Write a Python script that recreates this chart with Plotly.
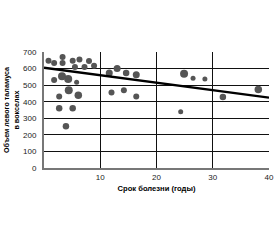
import plotly.graph_objects as go

# Data
duration_years = [0.8, 1.8, 3.3, 3.3, 5.1, 6.3, 5.5, 7.2, 8.0, 8.9,
                  1.8, 3.2, 4.3, 5.8, 2.7, 4.4, 6.1, 2.7, 5.1, 3.9,
                  11.6, 13.0, 14.6, 16.4, 12.0, 14.2, 16.4,
                  24.9, 26.5, 28.6, 24.3, 31.8, 38.1]
thalamus_voxels = [647, 633, 670, 633, 647, 655, 610, 610, 645, 617,
                   531, 553, 537, 517, 432, 469, 439, 360, 360, 252,
                   573, 601, 573, 563, 455, 469, 431,
                   569, 541, 537, 340, 429, 473]
marker_sizes = [6, 6, 6, 6, 6, 6, 6, 6, 6, 6,
                6, 8, 8, 5, 6, 8, 7.5, 6.5, 6.5, 6.5,
                7, 7, 6.5, 7, 6, 6, 6,
                8, 5, 5, 5, 6.5, 7.5]

trend_x = [0, 40]
trend_y = [605, 425]

x_ticks = [10, 20, 30, 40]
y_ticks = [0, 100, 200, 300, 400, 500, 600, 700]

fig = go.Figure()
fig.add_trace(go.Scatter(
    x=duration_years, y=thalamus_voxels, mode="markers",
    marker=dict(color="#555555", size=marker_sizes, opacity=1, line=dict(width=0)),
    showlegend=False, hoverinfo="skip"))
fig.add_trace(go.Scatter(
    x=trend_x, y=trend_y, mode="lines",
    line=dict(color="#000000", width=2.3),
    showlegend=False, hoverinfo="skip"))

font_family = "Liberation Sans, Arial, sans-serif"
fig.update_layout(
    width=280, height=240,
    margin=dict(l=38, r=6, t=52, b=72),
    paper_bgcolor="white", plot_bgcolor="white",
    font=dict(family=font_family, size=8, color="#222222"),
    xaxis=dict(
        range=[0, 40], tickvals=x_ticks, showgrid=True,
        gridcolor="#111111", gridwidth=1, zeroline=False,
        showline=True, linecolor="#777777", linewidth=2,
        ticks="", tickfont=dict(size=8, color="#222222"),
        title=dict(text="<b>Срок болезни (годы)</b>",
                   font=dict(size=7.6, color="#000000"), standoff=5),
    ),
    yaxis=dict(
        range=[0, 700], tickvals=y_ticks, showgrid=True,
        gridcolor="#111111", gridwidth=1, zeroline=False,
        showline=True, linecolor="#777777", linewidth=2,
        ticks="outside", ticklen=4, tickcolor="rgba(0,0,0,0)",
        tickfont=dict(size=8, color="#222222"),
        title=dict(text="<b>Объем левого таламуса<br>в вокселах</b>",
                   font=dict(size=7.2, color="#000000"), standoff=3),
    ),
)

fig.write_html("out.html")
